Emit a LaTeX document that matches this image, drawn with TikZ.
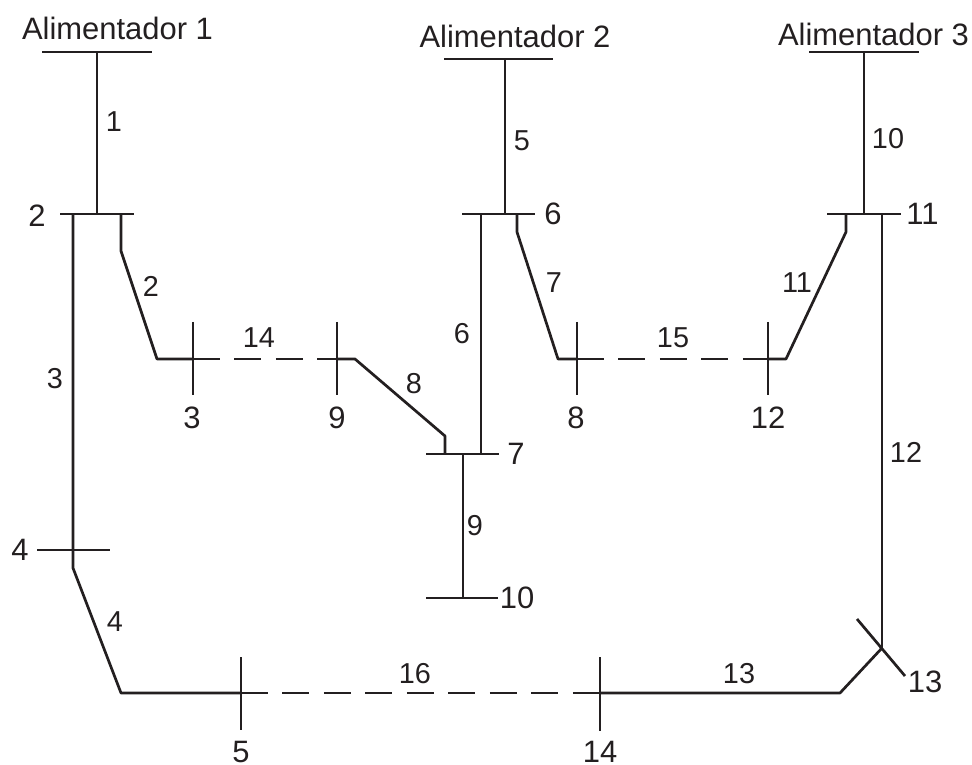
\documentclass[tikz,border=0pt]{standalone}
\usepackage{fontspec}
\setmainfont{Liberation Sans}
\usepackage{tikz}
\definecolor{inkline}{RGB}{35,31,32}
\tikzset{
	feeder/.style={line width=2.3pt, color=inkline},
	tie/.style={feeder, dash pattern=on 23pt off 12.4pt},
	buslabel/.style={text=inkline, inner sep=0, font=\fontsize{26.4}{30}\selectfont},
	linelabel/.style={text=inkline, inner sep=0, font=\fontsize{24.6}{28}\selectfont}
}

\begin{document}
\begin{tikzpicture}[x=0.03cm, y=-0.03cm]
	\useasboundingbox (0,0) rectangle (972,765);
	% Bus bars
	\coordinate (a1w) at (42,52); \coordinate (a1e) at (152,52);
	\coordinate (a2w) at (444,59); \coordinate (a2e) at (553,59);
	\coordinate (a3w) at (809,52); \coordinate (a3e) at (919,52);
	\coordinate (b2w) at (60,214); \coordinate (b2e) at (134,214);
	\coordinate (b6w) at (462,214); \coordinate (b6e) at (535,214);
	\coordinate (b11w) at (827,214); \coordinate (b11e) at (901,214);
	\coordinate (b7w) at (426,454); \coordinate (b7e) at (499,454);
	\coordinate (b10w) at (426,598); \coordinate (b10e) at (498,598);
	\coordinate (b4w) at (37,550); \coordinate (b4e) at (110,550);
	\foreach \west/\east in {a1w/a1e, a2w/a2e, a3w/a3e, b2w/b2e, b6w/b6e, b11w/b11e, b7w/b7e, b10w/b10e, b4w/b4e}
		\draw[feeder] (\west) -- (\east);
	\coordinate (b3n) at (193,322); \coordinate (b3s) at (193,395);
	\coordinate (b9n) at (337,322); \coordinate (b9s) at (337,395);
	\coordinate (b8n) at (577,322); \coordinate (b8s) at (577,395);
	\coordinate (b12n) at (768,322); \coordinate (b12s) at (768,395);
	\coordinate (b5n) at (241,657); \coordinate (b5s) at (241,730);
	\coordinate (b14n) at (600,657); \coordinate (b14s) at (600,731);
	\coordinate (b13n) at (857,619); \coordinate (b13s) at (905,676);
	\foreach \north/\south in {b3n/b3s, b9n/b9s, b8n/b8s, b12n/b12s, b5n/b5s, b14n/b14s, b13n/b13s}
		\draw[feeder] (\north) -- (\south);
	% Junctions
	\coordinate (b3) at (193,359); \coordinate (b9) at (337,359);
	\coordinate (b8) at (577,359); \coordinate (b12) at (768,359);
	\coordinate (b5) at (241,693); \coordinate (b14) at (600,693);
	\coordinate (b13) at (882,648);
	% Feeder lines
	\draw[feeder] (97,52) -- (97,214);
	\draw[feeder] (505,59) -- (505,214);
	\draw[feeder] (864,52) -- (864,214);
	\draw[feeder, line join=round] (121,214) -- (121,251) -- (157,359) -- (b3);
	\draw[feeder, line join=round] (73,214) -- (73,568) -- (121,693) -- (b5);
	\draw[feeder, line join=round] (b9) -- (355,359) -- (445,436) -- (445,454);
	\draw[feeder] (481,214) -- (481,454);
	\draw[feeder] (463,454) -- (463,598);
	\draw[feeder, line join=round] (517,214) -- (517,232) -- (558,359) -- (b8);
	\draw[feeder, line join=round] (b12) -- (786,359) -- (846,232) -- (846,214);
	\draw[feeder] (882,214) -- (b13);
	\draw[feeder, line join=round] (b14) -- (840,693) -- (b13);
	% Normally open ties
	\draw[tie] (b3) -- (b9);
	\draw[tie] (b8) -- (b12);
	\draw[tie] (b5) -- (b14);
	% Bus labels
	\node[buslabel] at (117.5,28) (alim1) {Alimentador 1};
	\node[buslabel] at (515,36) (alim2) {Alimentador 2};
	\node[buslabel] at (873.5,34) (alim3) {Alimentador 3};
	\node[buslabel] at (37,216) (lb2) {2};
	\node[buslabel] at (553,214) (lb6) {6};
	\node[buslabel] at (922.5,214) (lb11) {11};
	\node[buslabel] at (192,417.5) (lb3) {3};
	\node[buslabel] at (337,417.5) (lb9) {9};
	\node[buslabel] at (576,417.5) (lb8) {8};
	\node[buslabel] at (768,417.5) (lb12) {12};
	\node[buslabel] at (516,454) (lb7) {7};
	\node[buslabel] at (517,598) (lb10) {10};
	\node[buslabel] at (20,550) (lb4) {4};
	\node[buslabel] at (241,752) (lb5) {5};
	\node[buslabel] at (600,752) (lb14) {14};
	\node[buslabel] at (925,682) (lb13) {13};
	% Line labels
	\node[linelabel] at (114,121.5) (ll1) {1};
	\node[linelabel] at (151,286) (ll2) {2};
	\node[linelabel] at (55,379) (ll3) {3};
	\node[linelabel] at (115,622) (ll4) {4};
	\node[linelabel] at (522,141) (ll5) {5};
	\node[linelabel] at (462,334) (ll6) {6};
	\node[linelabel] at (554,283) (ll7) {7};
	\node[linelabel] at (414,384) (ll8) {8};
	\node[linelabel] at (475,526) (ll9) {9};
	\node[linelabel] at (888,139) (ll10) {10};
	\node[linelabel] at (797,283) (ll11) {11};
	\node[linelabel] at (906,452) (ll12) {12};
	\node[linelabel] at (739,674) (ll13) {13};
	\node[linelabel] at (259,338) (ll14) {14};
	\node[linelabel] at (673,338) (ll15) {15};
	\node[linelabel] at (415,674) (ll16) {16};
\end{tikzpicture}
\end{document}
